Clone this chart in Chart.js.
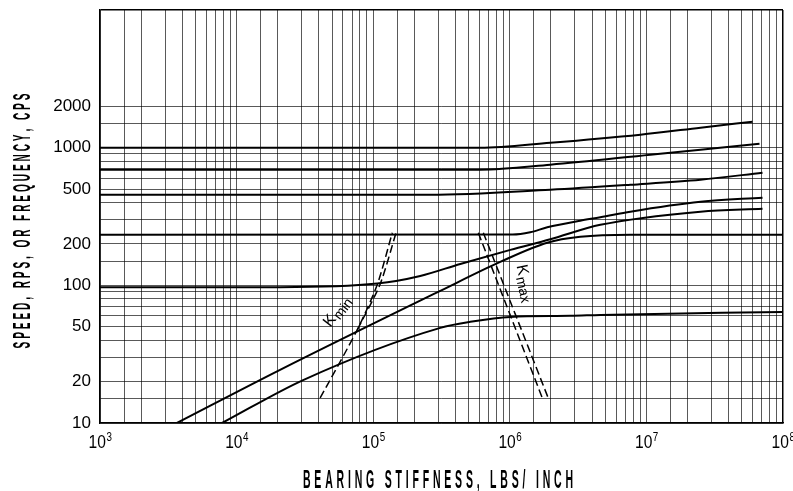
<!DOCTYPE html>
<html>
<head>
<meta charset="utf-8">
<script src="https://cdn.jsdelivr.net/npm/chart.js@4.4.1/dist/chart.umd.min.js"></script>
<style>
html, body { margin: 0; padding: 0; background: #fff; }
canvas { display: block; }
</style>
</head>
<body>
<canvas id="c" width="793" height="491"></canvas>
<script>
// bearing stiffness (lbs/inch) vs speed / frequency (cps)
const mode1K = [1e3, 6.08e5, 1.98e6, 9.04e6, 2.49e7, 5.98e7];
const mode1F = [1000, 1000, 1087, 1243, 1397, 1545];

const mode2K = [1e3, 6.08e5, 1.98e6, 1.07e7, 2.49e7, 6.73e7];
const mode2F = [692, 692, 752, 889, 967, 1069];

const mode3K = [1e3, 2.62e5, 1.98e6, 7.63e6, 2.49e7, 7.08e7];
const mode3F = [455, 455, 495, 538, 585, 658];

const mode4K = [1e3, 1.05e6, 1.41e6, 1.88e6, 3.28e6, 4.6e6, 7.63e6, 2.49e7, 7.08e7];
const mode4F = [233, 234, 243, 264, 295, 312, 343, 405, 433];

const mode5K = [1e3, 2.08e4, 1.07e5, 2.21e5, 4.34e5, 1.01e6, 1.98e6, 4.6e6, 2.49e7, 7.08e7];
const mode5F = [97, 97, 103, 117, 143, 181, 216, 275, 343, 360];

const mode6K = [3.66e3, 2.08e4, 3.1e5, 8.51e5, 1.88e6, 3.28e6, 7.63e6, 1e8];
const mode6F = [10, 24.3, 91.2, 148, 204, 225, 233, 233];

const mode7K = [7.83e3, 3.07e4, 3.1e5, 5.14e5, 1.01e6, 2.77e6, 4.6e6, 1e8];
const mode7F = [10, 20.5, 49.1, 54.3, 59, 60, 61, 64.1];

const kMinAK = [4.09e4, 7.64e4, 1.07e5, 1.38e5];
const kMinAF = [15.2, 47.5, 101, 241];
const kMinBK = [7.64e4, 1.12e5, 1.47e5];
const kMinBF = [47.5, 101, 241];

const kMaxAK = [5.88e5, 1.73e6];
const kMaxAF = [241, 15.2];
const kMaxBK = [6.4e5, 1.91e6];
const kMaxBF = [241, 15.2];

const gridSteps = [1, 1.5, 2, 3, 4, 5, 6, 7, 8, 9];
const xDecades = [1e3, 1e4, 1e5, 1e6, 1e7, 1e8];
const xExponents = ['3', '4', '5', '6', '7', '8'];
const yDecades = [10, 100, 1000, 10000];
const yLabelValues = [10, 20, 50, 100, 200, 500, 1000, 2000];
const yGridTop = 2000;

const xTitle = 'BEARING STIFFNESS, LBS/ INCH';
const yTitle = 'SPEED, RPS, OR FREQUENCY, CPS';

const notes = [
  { k: 4.84e4, f: 49.1, angle: -52, main: 'K', sub: 'min' },
  { k: 1.12e6, f: 139, angle: 78, main: 'K', sub: 'max' }
];

const xTicks = [];
xDecades.slice(0, -1).forEach((d) => gridSteps.forEach((s) => xTicks.push(d * s)));
xTicks.push(xDecades[xDecades.length - 1]);

const yTicks = [];
yDecades.slice(0, -1).forEach((d) => gridSteps.forEach((s) => { if (d * s <= yGridTop) yTicks.push(d * s); }));
yTicks.push(yDecades[yDecades.length - 1]);

const pts = (ks, fs) => ks.map((k, i) => ({ x: k, y: fs[i] }));

const solid = (ks, fs) => ({
  data: pts(ks, fs), showLine: true, borderColor: '#000', borderWidth: 2,
  pointRadius: 0, cubicInterpolationMode: 'monotone', fill: false
});
const dashed = (ks, fs) => ({
  data: pts(ks, fs), showLine: true, borderColor: '#000', borderWidth: 1.5,
  borderDash: [8, 4], pointRadius: 0, tension: 0.25, fill: false
});

const FONT = '"Liberation Sans", Arial, sans-serif';

function spaced(ctx, text, cx, base, sx, gap) {
  const widths = [...text].map((ch) => ctx.measureText(ch).width * sx);
  const total = widths.reduce((a, b) => a + b, 0) + gap * (text.length - 1);
  let x = cx - total / 2;
  [...text].forEach((ch, i) => {
    ctx.save();
    ctx.translate(x, base);
    ctx.scale(sx, 1);
    ctx.fillText(ch, 0, 0);
    ctx.restore();
    x += widths[i] + gap;
  });
}

const textPlugin = {
  id: 'texts',
  afterDraw(chart) {
    const { ctx, scales: { x, y } } = chart;
    ctx.save();
    ctx.fillStyle = '#000';
    ctx.textBaseline = 'alphabetic';
    ctx.textAlign = 'left';

    // x tick labels: 10 with raised exponent, a little condensed
    const sx = 0.82;
    xDecades.forEach((v, i) => {
      const px = x.getPixelForValue(v);
      ctx.font = '19px ' + FONT;
      const w = ctx.measureText('10').width * sx;
      ctx.font = '12px ' + FONT;
      const we = ctx.measureText(xExponents[i]).width * sx;
      const left = px - (w + we) / 2;
      ctx.save();
      ctx.translate(left, 0);
      ctx.scale(sx, 1);
      ctx.font = '19px ' + FONT;
      ctx.fillText('10', 0, 448);
      ctx.font = '12px ' + FONT;
      ctx.fillText(xExponents[i], (w + 0.5) / sx, 441);
      ctx.restore();
    });

    // axis titles
    ctx.font = 'bold 25px ' + FONT;
    spaced(ctx, xTitle, 438, 488, 0.42, 3.8);
    ctx.save();
    ctx.translate(30, 221);
    ctx.rotate(-Math.PI / 2);
    ctx.font = 'bold 24px ' + FONT;
    spaced(ctx, yTitle, 0, 0, 0.42, 2.9);
    ctx.restore();

    // K min / K max labels
    notes.forEach((n) => {
      ctx.save();
      ctx.translate(x.getPixelForValue(n.k), y.getPixelForValue(n.f));
      ctx.rotate(n.angle * Math.PI / 180);
      ctx.font = '16px ' + FONT;
      ctx.fillText(n.main, 0, 0);
      const w = ctx.measureText(n.main).width;
      ctx.font = '14px ' + FONT;
      ctx.fillText(n.sub, w + 1, 3);
      ctx.restore();
    });
    ctx.restore();
  }
};

const gridColor = (edge) => (c) => (c.tick && c.tick.value === edge ? '#000' : 'rgba(0,0,0,0.65)');
const gridWidth = (edge) => (c) => (c.tick && c.tick.value === edge ? 1.5 : 1);

new Chart(document.getElementById('c'), {
  type: 'scatter',
  data: {
    datasets: [
      solid(mode1K, mode1F), solid(mode2K, mode2F), solid(mode3K, mode3F),
      solid(mode4K, mode4F), solid(mode5K, mode5F), solid(mode6K, mode6F),
      solid(mode7K, mode7F),
      dashed(kMinAK, kMinAF), dashed(kMinBK, kMinBF),
      dashed(kMaxAK, kMaxAF), dashed(kMaxBK, kMaxBF)
    ]
  },
  options: {
    responsive: false,
    animation: false,
    layout: { padding: { top: 10, right: 10, left: 0, bottom: 0 } },
    plugins: { legend: { display: false }, tooltip: { enabled: false } },
    scales: {
      x: {
        type: 'logarithmic', min: 1e3, max: 1e8,
        afterBuildTicks: (s) => { s.ticks = xTicks.map((v) => ({ value: v })); },
        afterFit: (s) => { s.height = 68; s.paddingLeft = 0; s.paddingRight = 0; },
        ticks: { autoSkip: false, maxRotation: 0, callback: () => '', font: { size: 1 } },
        grid: { drawTicks: false, color: gridColor(1e8), lineWidth: gridWidth(1e8) },
        border: { color: '#000', width: 1.5 }
      },
      y: {
        type: 'logarithmic', min: 10, max: 1e4,
        afterBuildTicks: (s) => { s.ticks = yTicks.map((v) => ({ value: v })); },
        afterFit: (s) => { s.width = 100; s.paddingTop = 0; s.paddingBottom = 0; },
        ticks: {
          autoSkip: false, padding: 9, color: '#000',
          font: { family: FONT, size: 17 },
          callback: (v) => (yLabelValues.includes(v) ? String(v) : '')
        },
        grid: { drawTicks: false, color: gridColor(1e4), lineWidth: gridWidth(1e4) },
        border: { color: '#000', width: 1.5 }
      }
    }
  },
  plugins: [textPlugin]
});
</script>
</body>
</html>
